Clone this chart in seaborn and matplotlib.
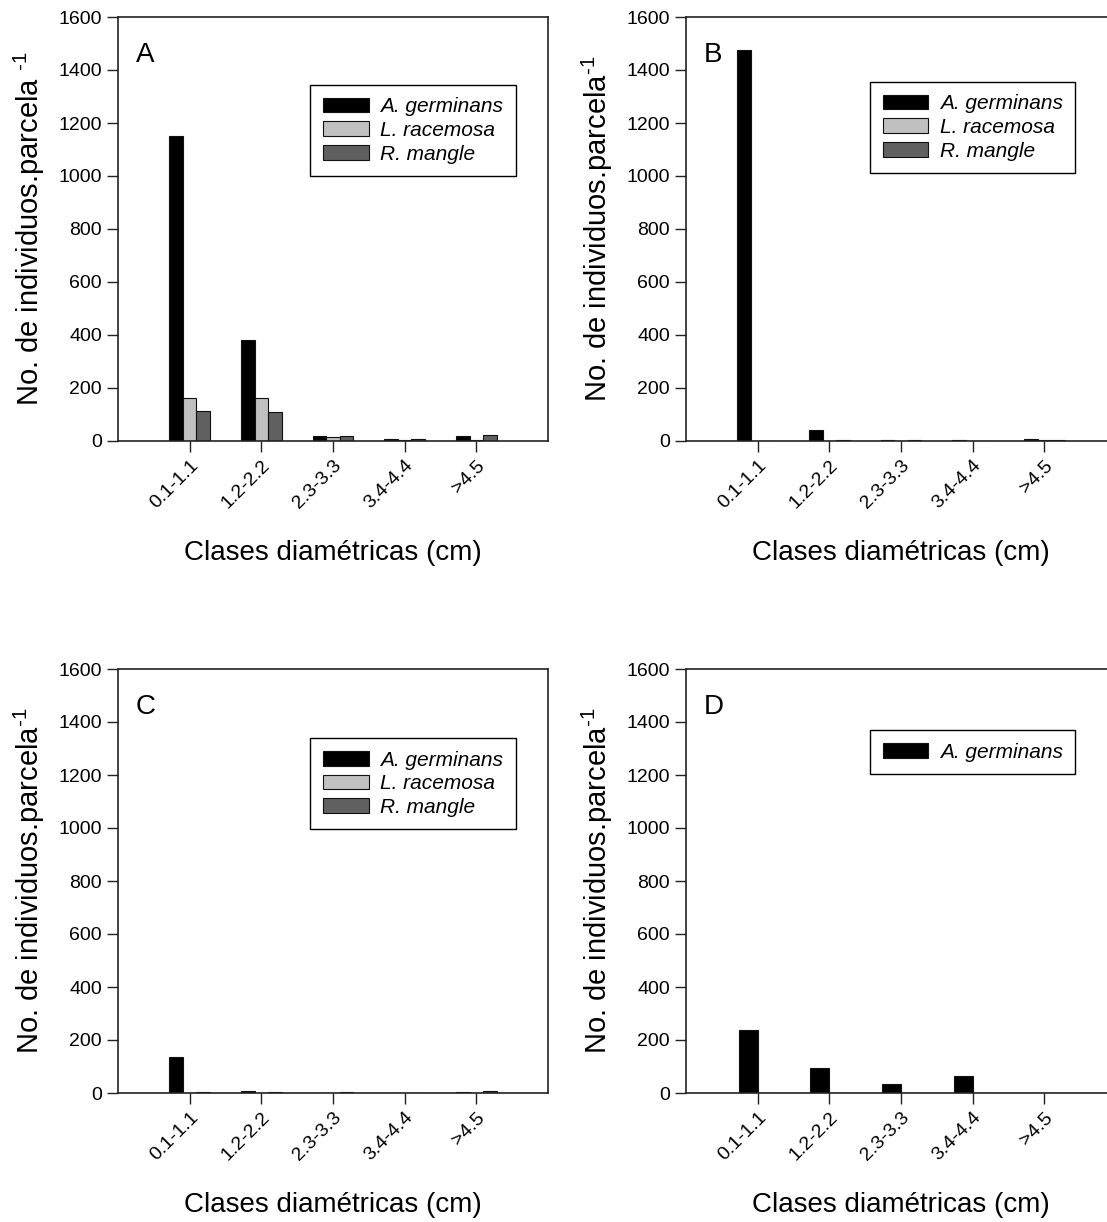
import matplotlib
matplotlib.use("Agg")
import matplotlib.pyplot as plt
import matplotlib.patches as mpatches
import pandas as pd
import seaborn as sns

clases = ["0.1-1.1", "1.2-2.2", "2.3-3.3", "3.4-4.4", ">4.5"]
especies = ["A. germinans", "L. racemosa", "R. mangle"]

# valores (individuos por parcela)
a_germ = [1152, 382, 19, 6, 17]
a_race = [161, 163, 14, 4, 3]
a_mang = [113, 109, 17, 6, 21]

b_germ = [1475, 43, 2, 2, 9]
b_race = [0, 0, 0, 0, 3]
b_mang = [0, 3, 2, 0, 4]

c_germ = [135, 9, 0, 0, 5]
c_race = [0, 0, 0, 0, 0]
c_mang = [3, 4, 3, 0, 7]

d_germ = [238, 95, 34, 63, 0]

colores = {"A. germinans": "#000000", "L. racemosa": "#c0c0c0", "R. mangle": "#606060"}

sns.set_style("ticks")
plt.rcParams["font.family"] = ["Liberation Sans", "DejaVu Sans"]
plt.rcParams["mathtext.fontset"] = "custom"
plt.rcParams["mathtext.rm"] = "Liberation Sans"
plt.rcParams["mathtext.it"] = "Liberation Sans:italic"
plt.rcParams["text.color"] = "black"
plt.rcParams["axes.labelcolor"] = "black"

W, H = 1107, 1222
fig = plt.figure(figsize=(W / 100, H / 100), dpi=100)


def tabla(germ, race=None, mang=None):
    filas = []
    for i, c in enumerate(clases):
        filas.append((c, "A. germinans", germ[i]))
        if race is not None:
            filas.append((c, "L. racemosa", race[i]))
            filas.append((c, "R. mangle", mang[i]))
        else:
            filas.append((c, "_vacio", 0))
    return pd.DataFrame(filas, columns=["clase", "especie", "n"])


def panel(left, bottom, df, letra, ylab, leg_xy, tres=True):
    ax = fig.add_axes([left / W, 1 - bottom / H, 430 / W, 424 / H])
    if tres:
        pal = colores
        orden = especies
        ancho = 0.57
    else:
        pal = {"A. germinans": "#000000", "_vacio": "#ffffff"}
        orden = ["A. germinans", "_vacio"]
        ancho = 0.53
    sns.barplot(data=df, x="clase", y="n", hue="especie", hue_order=orden,
                order=clases, palette=pal, width=ancho, gap=0, dodge=True,
                edgecolor="#111111", linewidth=0.8, legend=False, ax=ax)
    ax.set_xlim(-1, 5)
    ax.set_ylim(0, 1600)
    ax.set_yticks(range(0, 1601, 200))
    for s in ax.spines.values():
        s.set_visible(True)
        s.set_color("#222222")
        s.set_linewidth(1.2)
    ax.tick_params(direction="out", length=8, width=1, colors="#222222",
                   labelcolor="black", labelsize=14)
    ax.set_xticks(range(len(clases)))
    ax.set_xticklabels(clases, rotation=45, ha="right", va="top",
                       rotation_mode="anchor")
    ax.set_xlabel("Clases diamétricas (cm)", fontsize=20, va="center")
    ax.xaxis.set_label_coords(0.5, -0.264)
    ax.set_ylabel(ylab, fontsize=21, va="center")
    ax.yaxis.set_label_coords(-0.205, 0.5)
    ax.text(0.042, 0.91, letra, transform=ax.transAxes, fontsize=20,
            va="center", ha="left")
    handles = []
    for e in (orden if tres else ["A. germinans"]):
        handles.append(mpatches.Patch(facecolor=colores[e], edgecolor="#111111",
                                      linewidth=0.8, label=e))
    lg = ax.legend(handles=handles, loc="upper left", bbox_to_anchor=leg_xy,
                   borderaxespad=0, fancybox=False, framealpha=1,
                   edgecolor="black", prop={"size": 15, "style": "italic"},
                   handlelength=2.2, handleheight=0.7, labelspacing=0.22,
                   borderpad=0.6, handletextpad=0.55)
    lg.get_frame().set_linewidth(1.0)
    return ax


panel(118, 441, tabla(a_germ, a_race, a_mang), "A",
      r"No. de individuos.parcela $^{\text{-1}}$", (0.447, 0.840))
panel(686, 441, tabla(b_germ, b_race, b_mang), "B",
      r"No. de individuos.parcela$^{\text{-1}}$", (0.428, 0.847))
panel(118, 1093, tabla(c_germ, c_race, c_mang), "C",
      r"No. de individuos.parcela$^{\text{-1}}$", (0.447, 0.837))
panel(686, 1093, tabla(d_germ), "D",
      r"No. de individuos.parcela$^{\text{-1}}$", (0.428, 0.856), tres=False)

fig.savefig("out.png", dpi=100)
